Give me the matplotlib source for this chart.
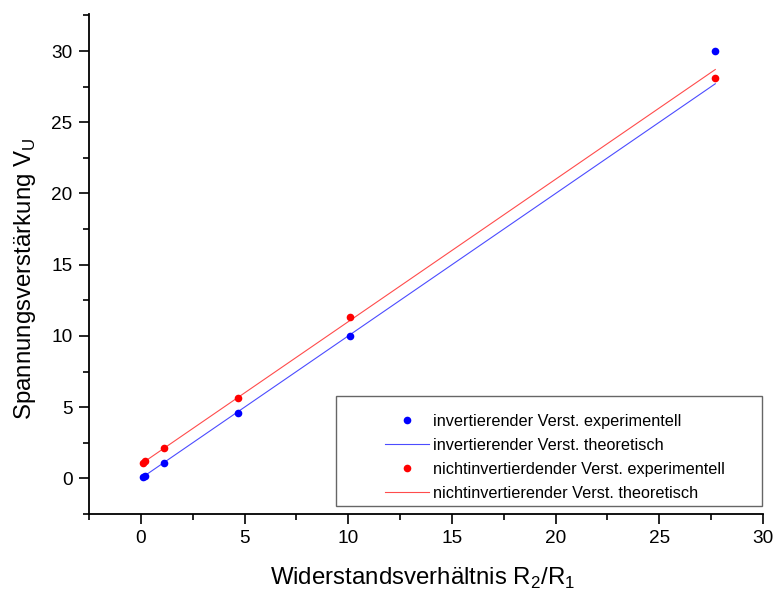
import matplotlib
matplotlib.use("Agg")
import matplotlib.pyplot as plt
from matplotlib.ticker import MultipleLocator
from matplotlib.patches import Rectangle

plt.rcParams['font.family'] = ['Liberation Sans', 'DejaVu Sans']
plt.rcParams['mathtext.fontset'] = 'custom'
plt.rcParams['mathtext.rm'] = 'Liberation Sans'

ratio = [0.1, 0.2, 1.1, 4.7, 10.1, 27.7]
inv_exp = [0.1, 0.2, 1.1, 4.6, 10.0, 30.0]
noninv_exp = [1.1, 1.2, 2.1, 5.65, 11.3, 28.1]
theory_x = [0.1, 27.7]
inv_theory = [0.1, 27.7]
noninv_theory = [1.1, 28.7]

fig = plt.figure(figsize=(7.76, 5.95), dpi=100)
ax = fig.add_axes([0.1147, 0.1361, 0.9832 - 0.1147, 0.9765 - 0.1361])

ax.plot(ratio, inv_exp, 'o', color='#0000ff', ms=5.5, mec='none', label='invertierender Verst. experimentell', zorder=3)
ax.plot(theory_x, inv_theory, '-', color='#0000ff', lw=0.8, alpha=0.7, label='invertierender Verst. theoretisch')
ax.plot(ratio, noninv_exp, 'o', color='#ff0000', ms=5.5, mec='none', label='nichtinvertierdender Verst. experimentell', zorder=3)
ax.plot(theory_x, noninv_theory, '-', color='#ff0000', lw=0.8, alpha=0.7, label='nichtinvertierender Verst. theoretisch')

ax.set_xlim(-2.5, 30)
ax.set_ylim(-2.5, 32.6)
ax.xaxis.set_major_locator(MultipleLocator(5))
ax.xaxis.set_minor_locator(MultipleLocator(2.5))
ax.yaxis.set_major_locator(MultipleLocator(5))
ax.yaxis.set_minor_locator(MultipleLocator(2.5))
ax.spines['top'].set_visible(False)
ax.spines['right'].set_visible(False)
ax.spines['left'].set_linewidth(1.3)
ax.spines['bottom'].set_linewidth(1.3)
ax.tick_params(which='major', direction='out', length=7.5, width=1.2, labelsize=13.7)
ax.tick_params(axis='x', which='major', pad=3.8)
ax.tick_params(axis='y', which='major', pad=4.3)
ax.tick_params(which='minor', direction='out', length=4.5, width=1.2)

ax.set_xlabel(r'Widerstandsverhältnis R$_{\mathregular{2}}$/R$_{\mathregular{1}}$', fontsize=17.3)
ax.set_ylabel(r'Spannungsverstärkung V$_{\mathregular{U}}$', fontsize=17.3)
ax.xaxis.set_label_coords(0.495, -0.104)
ax.yaxis.set_label_coords(-0.075, 0.471)

# legend frame
ax.add_patch(Rectangle((0.366, 0.016), 0.9985 - 0.366, 0.236 - 0.016, transform=ax.transAxes,
                       facecolor='white', edgecolor='#666666', lw=1.0, zorder=4, clip_on=False))
leg = ax.legend(loc='center left', bbox_to_anchor=(0.4267, 0.113), fontsize=11.7, frameon=False,
                handlelength=2.7, labelspacing=0.55, borderpad=0.0, handletextpad=0.3)
leg.set_zorder(5)

fig.savefig('out.png', dpi=100)
